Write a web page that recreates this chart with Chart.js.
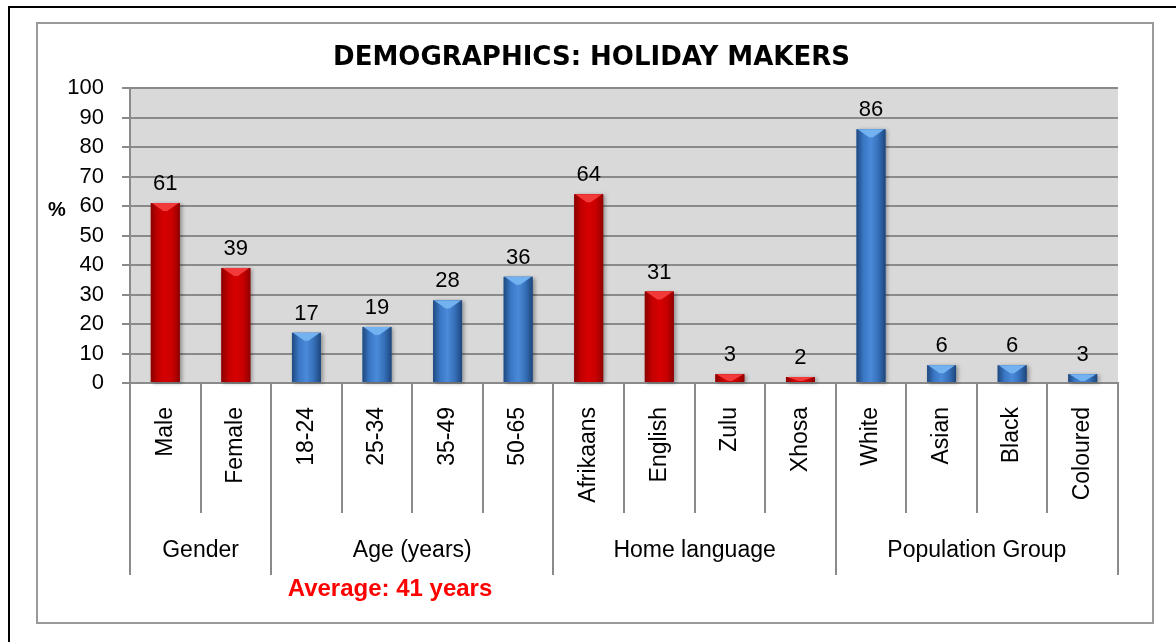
<!DOCTYPE html>
<html>
<head>
<meta charset="utf-8">
<title>Demographics: holiday makers</title>
<script src="https://cdn.jsdelivr.net/npm/chart.js@4.4.1/dist/chart.umd.min.js"></script>
<style>
  html, body { margin: 0; padding: 0; background: #fff; }
  #wrap { position: relative; width: 1176px; height: 642px; }
</style>
</head>
<body>
<div id="wrap"><canvas id="demo" width="1176" height="642"></canvas></div>
<script>
// survey results, % of respondents
const categories = ['Male', 'Female', '18-24', '25-34', '35-49', '50-65',
  'Afrikaans', 'English', 'Zulu', 'Xhosa', 'White', 'Asian', 'Black', 'Coloured'];
const shares = [61, 39, 17, 19, 28, 36, 64, 31, 3, 2, 86, 6, 6, 3];
const groupNames = ['Gender', 'Age (years)', 'Home language', 'Population Group'];
const groupSizes = [2, 4, 4, 4];
const averageNote = 'Average: 41 years';
const yMin = 0;
const yMax = 100;
const yStep = 10;

const RED = {
    base: '#cc0000',
    stops: ['#8a0000', '#c40000', '#d60000', '#c80000', '#900000'],
    cap: '#f23a3a'
};
const BLUE = {
    base: '#3b78c4',
    stops: ['#20497f', '#3a78c6', '#4a8ad8', '#3670ba', '#1d467c'],
    cap: '#72b2f0'
};

const LINE_GREY = '#8a8a8a';
const FONT = '"Liberation Sans", Arial, sans-serif';

// which group a category belongs to
function groupOf(index) {
    let end = 0;
    for (let g = 0; g < groupSizes.length; g++) {
        end += groupSizes[g];
        if (index < end) return g;
    }
    return groupSizes.length - 1;
}

function toneFor(index) {
    return groupOf(index) % 2 === 0 ? RED : BLUE;
}

const backdrop = {
    id: 'backdrop',
    beforeDraw(chart) {
        const ctx = chart.ctx;
        const a = chart.chartArea;
        ctx.save();
        ctx.fillStyle = '#fff';
        ctx.fillRect(0, 0, chart.width, chart.height);

        // outer black rule
        ctx.strokeStyle = '#000';
        ctx.lineWidth = 2;
        ctx.beginPath();
        ctx.moveTo(9, chart.height);
        ctx.lineTo(9, 7);
        ctx.lineTo(chart.width, 7);
        ctx.stroke();

        // chart border
        ctx.strokeStyle = '#9a9a9a';
        ctx.strokeRect(37, 23, 1116, 600);

        // plot area fill
        ctx.fillStyle = '#d9d9d9';
        ctx.fillRect(a.left, a.top, a.right - a.left, a.bottom - a.top);
        ctx.restore();
    }
};

// cylinder shading, bevelled top and value labels on each bar
const barShading = {
    id: 'barShading',
    afterDatasetsDraw(chart) {
        const ctx = chart.ctx;
        const meta = chart.getDatasetMeta(0);
        meta.data.forEach((bar, i) => {
            const p = bar.getProps(['x', 'y', 'base', 'width'], true);
            const tone = toneFor(i);
            const left = p.x - p.width / 2;
            const right = p.x + p.width / 2;
            const top = Math.min(p.y, p.base);
            const h = Math.abs(p.base - p.y);

            ctx.save();
            const grad = ctx.createLinearGradient(left, 0, right, 0);
            const n = tone.stops.length - 1;
            tone.stops.forEach((c, k) => grad.addColorStop(k / n, c));
            ctx.shadowColor = 'rgba(0,0,0,0.35)';
            ctx.shadowBlur = 4;
            ctx.shadowOffsetX = 2;
            ctx.shadowOffsetY = 1;
            ctx.fillStyle = grad;
            ctx.fillRect(left, top, p.width, h);
            ctx.restore();

            // light chamfer on the top face
            const depth = Math.min(8, h - 1);
            ctx.save();
            ctx.fillStyle = tone.cap;
            ctx.beginPath();
            ctx.moveTo(left + 1, top);
            ctx.lineTo(right - 1, top);
            ctx.lineTo(p.x + 2, top + depth);
            ctx.lineTo(p.x - 2, top + depth);
            ctx.closePath();
            ctx.fill();
            ctx.restore();

            ctx.save();
            ctx.font = '22px ' + FONT;
            ctx.fillStyle = '#000';
            ctx.textAlign = 'center';
            ctx.textBaseline = 'alphabetic';
            ctx.fillText(String(shares[i]), p.x, top - 13);
            ctx.restore();
        });
    }
};

// two-level category axis: separators, group names, note and unit
const groupAxis = {
    id: 'groupAxis',
    afterDraw(chart) {
        const ctx = chart.ctx;
        const xs = chart.scales.x;
        const a = chart.chartArea;
        const half = (xs.getPixelForValue(1) - xs.getPixelForValue(0)) / 2;
        const edgeAt = i => (i < categories.length
            ? xs.getPixelForValue(i) - half
            : xs.getPixelForValue(categories.length - 1) + half);

        const groupEdges = new Set([0]);
        let acc = 0;
        groupSizes.forEach(s => { acc += s; groupEdges.add(acc); });

        ctx.save();
        ctx.strokeStyle = LINE_GREY;
        ctx.lineWidth = 2;
        for (let i = 0; i <= categories.length; i++) {
            const x = Math.round(edgeAt(i));
            ctx.beginPath();
            ctx.moveTo(x, a.bottom);
            ctx.lineTo(x, a.bottom + (groupEdges.has(i) ? 192 : 130));
            ctx.stroke();
        }

        ctx.fillStyle = '#000';
        ctx.font = '23px ' + FONT;
        ctx.textAlign = 'center';
        ctx.textBaseline = 'middle';
        let start = 0;
        groupNames.forEach((name, g) => {
            const end = start + groupSizes[g];
            ctx.fillText(name, (edgeAt(start) + edgeAt(end)) / 2, a.bottom + 168);
            start = end;
        });

        ctx.fillStyle = '#ff0000';
        ctx.font = 'bold 24px ' + FONT;
        ctx.fillText(averageNote, 390, a.bottom + 206);

        ctx.fillStyle = '#000';
        ctx.font = 'bold 20px ' + FONT;
        ctx.fillText('%', 57, chart.scales.y.getPixelForValue(60) + 4);
        ctx.restore();
    }
};

new Chart(document.getElementById('demo'), {
    type: 'bar',
    data: {
        labels: categories,
        datasets: [{
            data: shares,
            backgroundColor: categories.map((_, i) => toneFor(i).base),
            borderWidth: 0,
            barPercentage: 0.41,
            categoryPercentage: 1.0
        }]
    },
    options: {
        responsive: false,
        animation: false,
        events: [],
        font: { family: FONT },
        layout: { padding: { top: 20, left: 65, right: 58, bottom: 0 } },
        plugins: {
            legend: { display: false },
            tooltip: { enabled: false },
            title: {
                display: true,
                text: 'DEMOGRAPHICS: HOLIDAY MAKERS',
                color: '#000',
                font: { family: '"DejaVu Sans", Verdana, sans-serif', size: 26, weight: 'bold' },
                lineHeight: 1.2,
                padding: { top: 23, bottom: 13.8 }
            }
        },
        scales: {
            x: {
                grid: { display: false, drawTicks: false },
                border: { display: true, color: LINE_GREY, width: 2 },
                ticks: {
                    autoSkip: false,
                    minRotation: 90,
                    maxRotation: 90,
                    padding: 24,
                    color: '#000',
                    font: { family: FONT, size: 23 }
                },
                afterFit(scale) { scale.height = 259; }
            },
            y: {
                min: yMin,
                max: yMax,
                ticks: {
                    stepSize: yStep,
                    padding: 18,
                    color: '#000',
                    font: { family: FONT, size: 22 }
                },
                grid: { color: LINE_GREY, lineWidth: 2, tickLength: 8 },
                border: { color: LINE_GREY, width: 2 },
                afterFit(scale) { scale.width = 65; }
            }
        }
    },
    plugins: [backdrop, barShading, groupAxis]
});
</script>
</body>
</html>
